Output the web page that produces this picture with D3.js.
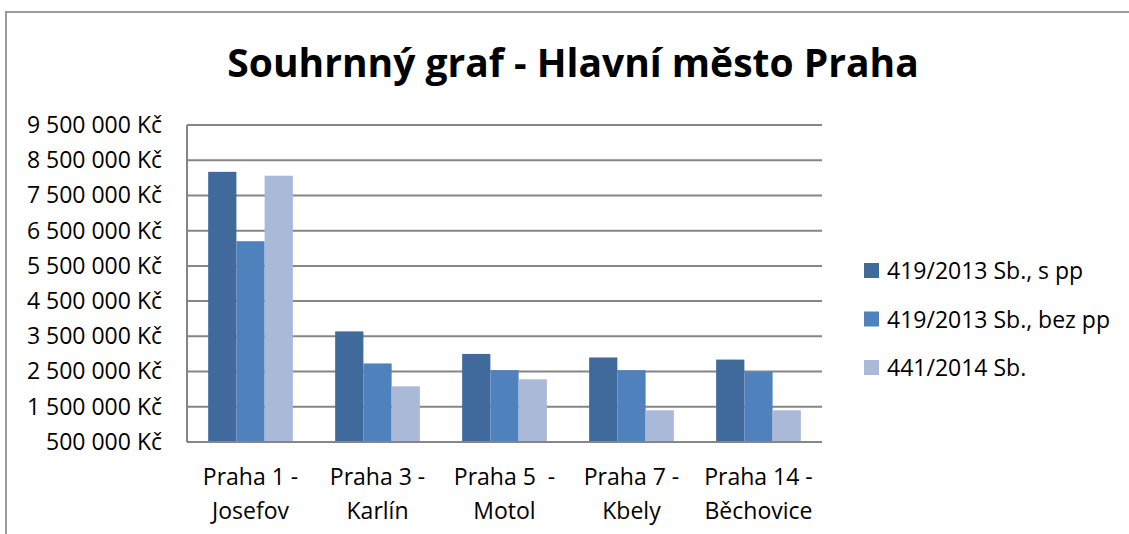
<!DOCTYPE html>
<html>
<head>
<meta charset="utf-8">
<script src="https://cdn.jsdelivr.net/npm/d3@7"></script>
<style>
  body { margin: 0; background: #fff; }
  svg { display: block; font-family: "Open Sans", sans-serif; }
</style>
</head>
<body>
<div id="chart"></div>
<script>
// data
var categories = [["Praha 1 -", "Josefov"], ["Praha 3 -", "Karlín"], ["Praha 5  -", "Motol"], ["Praha 7 -", "Kbely"], ["Praha 14 -", "Běchovice"]];
var seriesNames = ["419/2013 Sb., s pp", "419/2013 Sb., bez pp", "441/2014 Sb."];
var sPP = [8170000, 3640000, 3000000, 2900000, 2840000];
var bezPP = [6200000, 2730000, 2540000, 2540000, 2490000];
var sb441 = [8060000, 2080000, 2280000, 1400000, 1400000];
var yTicks = [500000, 1500000, 2500000, 3500000, 4500000, 5500000, 6500000, 7500000, 8500000, 9500000];
var colors = ["#416a9c", "#4f81bd", "#aab9d7"];

var W = 1129, H = 534;
var margin = {top: 125, right: 307, bottom: 92, left: 187};
var width = W - margin.left - margin.right,
    height = H - margin.top - margin.bottom;

var svg = d3.select("#chart").append("svg")
    .attr("width", W)
    .attr("height", H);

// chart border (only top and left visible)
svg.append("path")
    .attr("d", "M6,534V12H1129")
    .attr("fill", "none")
    .attr("stroke", "#9a9a9a")
    .attr("stroke-width", 2);

svg.append("text")
    .attr("x", 573)
    .attr("y", 77)
    .attr("text-anchor", "middle")
    .style("font-size", "39px")
    .style("font-weight", "bold")
    .text("Souhrnný graf - Hlavní město Praha");

var g = svg.append("g")
    .attr("transform", "translate(" + margin.left + "," + margin.top + ")");

var x0 = d3.scaleBand()
    .domain(d3.range(categories.length))
    .range([0, width])
    .paddingInner(0.333)
    .paddingOuter(0.1667);
var x1 = d3.scaleBand()
    .domain(d3.range(seriesNames.length))
    .range([0, x0.bandwidth()]);
var y = d3.scaleLinear()
    .domain([500000, 9500000])
    .range([height, 0]);

// grid lines
g.selectAll(".grid")
    .data(yTicks)
  .enter().append("line")
    .attr("x1", 0)
    .attr("x2", width)
    .attr("y1", function(d) { return y(d); })
    .attr("y2", function(d) { return y(d); })
    .attr("stroke", "#868686")
    .attr("stroke-width", 2);

var fmt = function(d) { return d3.format(",")(d).replace(/,/g, " ") + " Kč"; };

g.append("g")
    .call(d3.axisLeft(y).tickValues(yTicks).tickSize(0).tickPadding(25).tickFormat(fmt))
    .call(function(a) { a.select(".domain").remove(); })
    .selectAll("text")
    .attr("fill", "#000")
    .style("font-family", "Open Sans")
    .style("font-size", "23px");

var data = [sPP, bezPP, sb441];
var groups = g.selectAll(".grp")
    .data(categories)
  .enter().append("g")
    .attr("transform", function(d, i) { return "translate(" + x0(i) + ",0)"; });

groups.selectAll("rect")
    .data(function(d, i) { return data.map(function(s) { return s[i]; }); })
  .enter().append("rect")
    .attr("x", function(d, j) { return x1(j); })
    .attr("width", x1.bandwidth())
    .attr("y", function(d) { return y(d); })
    .attr("height", function(d) { return height - y(d); })
    .attr("fill", function(d, j) { return colors[j]; });

// axis lines
g.append("line")
    .attr("x1", 0).attr("x2", 0)
    .attr("y1", 0).attr("y2", height)
    .attr("stroke", "#868686").attr("stroke-width", 2);
g.append("line")
    .attr("x1", 0).attr("x2", width)
    .attr("y1", height).attr("y2", height)
    .attr("stroke", "#868686").attr("stroke-width", 2);

// category labels, two lines
var labels = g.selectAll(".xlab")
    .data(categories)
  .enter().append("text")
    .attr("text-anchor", "middle")
    .attr("x", function(d, i) { return x0(i) + x0.bandwidth() / 2; })
    .style("font-size", "23px")
    .style("white-space", "pre");
labels.append("tspan")
    .attr("x", function(d, i) { return x0(i) + x0.bandwidth() / 2; })
    .attr("y", height + 43)
    .text(function(d) { return d[0]; });
labels.append("tspan")
    .attr("x", function(d, i) { return x0(i) + x0.bandwidth() / 2; })
    .attr("y", height + 77)
    .text(function(d) { return d[1]; });

// legend
var legend = svg.append("g")
    .attr("transform", "translate(864,263)");
var item = legend.selectAll(".leg")
    .data(seriesNames)
  .enter().append("g")
    .attr("transform", function(d, i) { return "translate(0," + (i * 48.5) + ")"; });
item.append("rect")
    .attr("width", 15)
    .attr("height", 15)
    .attr("fill", function(d, i) { return colors[i]; });
item.append("text")
    .attr("x", 23)
    .attr("y", 16)
    .style("font-size", "23px")
    .text(function(d) { return d; });
</script>
</body>
</html>
